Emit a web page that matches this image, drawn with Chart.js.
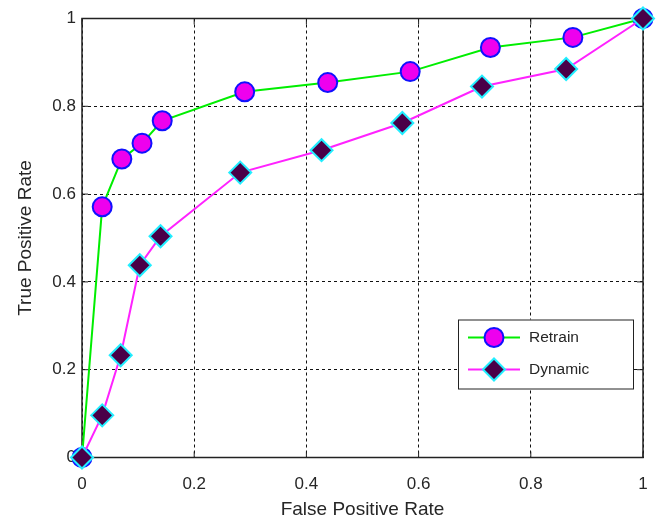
<!DOCTYPE html>
<html>
<head>
<meta charset="utf-8">
<script src="https://cdn.jsdelivr.net/npm/chart.js@4"></script>
<style>
  html, body { margin: 0; padding: 0; background: #fff; }
  #wrap { width: 662px; height: 523px; }
</style>
</head>
<body>
<div id="wrap"><canvas id="roc" width="662" height="523"></canvas></div>
<script>
// values
const retrainFpr = [0, 0.036, 0.071, 0.107, 0.143, 0.29, 0.438, 0.585, 0.728, 0.875, 1];
const retrainTpr = [0, 0.571, 0.68, 0.716, 0.767, 0.833, 0.854, 0.879, 0.934, 0.957, 1];
const dynamicFpr = [0, 0.036, 0.069, 0.103, 0.14, 0.282, 0.427, 0.571, 0.713, 0.863, 1];
const dynamicTpr = [0, 0.096, 0.233, 0.438, 0.504, 0.649, 0.70, 0.762, 0.845, 0.885, 1];
const axisTicks = [0, 0.2, 0.4, 0.6, 0.8, 1];

const toPoints = (xs, ys) => xs.map((x, i) => ({ x, y: ys[i] }));
const textColor = "#262626";
const fontFamily = "'Liberation Sans', Arial, sans-serif";

// axes box + inward ticks, matlab style
const boxPlugin = {
    id: "box",
    beforeDatasetsDraw(chart) {
        const { ctx, chartArea: a, scales } = chart;
        ctx.save();
        ctx.strokeStyle = "#222";
        ctx.lineWidth = 1.5;
        ctx.strokeRect(a.left, a.top, a.right - a.left, a.bottom - a.top);
        ctx.lineWidth = 1;
        ctx.beginPath();
        axisTicks.forEach((v) => {
            const px = scales.x.getPixelForValue(v);
            const py = scales.y.getPixelForValue(v);
            ctx.moveTo(px, a.bottom); ctx.lineTo(px, a.bottom - 6);
            ctx.moveTo(px, a.top); ctx.lineTo(px, a.top + 6);
            ctx.moveTo(a.left, py); ctx.lineTo(a.left + 6, py);
            ctx.moveTo(a.right, py); ctx.lineTo(a.right - 6, py);
        });
        ctx.stroke();
        ctx.restore();
    },
};

// legend with line through marker
const legendPlugin = {
    id: "roclegend",
    afterDraw(chart) {
        const { ctx, chartArea: a } = chart;
        const w = 175, h = 69;
        const x0 = a.right - 10 - w;
        const y0 = a.bottom - 69 - h;
        ctx.save();
        ctx.fillStyle = "#fff";
        ctx.fillRect(x0, y0, w, h);
        ctx.strokeStyle = "#222";
        ctx.lineWidth = 1;
        ctx.strokeRect(x0 + 0.5, y0 + 0.5, w, h);
        chart.data.datasets.forEach((ds, i) => {
            const cy = y0 + 18 + i * 32;
            const lx = x0 + 10, rx = x0 + 62, mx = x0 + 36;
            ctx.strokeStyle = ds.borderColor;
            ctx.lineWidth = 2;
            ctx.beginPath();
            ctx.moveTo(lx, cy); ctx.lineTo(rx, cy);
            ctx.stroke();
            ctx.fillStyle = ds.pointBackgroundColor;
            ctx.strokeStyle = ds.pointBorderColor;
            ctx.lineWidth = ds.pointBorderWidth;
            Chart.helpers.drawPoint(ctx, {
                pointStyle: ds.pointStyle,
                radius: ds.pointRadius,
                borderWidth: ds.pointBorderWidth,
            }, mx, cy);
            ctx.fillStyle = textColor;
            ctx.font = "15.5px " + fontFamily;
            ctx.textBaseline = "middle";
            ctx.fillText(ds.label, x0 + 71, cy);
        });
        ctx.restore();
    },
};

new Chart(document.getElementById("roc").getContext("2d"), {
    type: "line",
    data: {
        datasets: [
            {
                label: "Retrain",
                data: toPoints(retrainFpr, retrainTpr),
                borderColor: "#00ee00",
                borderWidth: 2,
                pointStyle: "circle",
                pointRadius: 9.5,
                pointBackgroundColor: "#ee00ee",
                pointBorderColor: "#1010ff",
                pointBorderWidth: 2,
                order: 2,
                clip: false,
            },
            {
                label: "Dynamic",
                data: toPoints(dynamicFpr, dynamicTpr),
                borderColor: "#ff22ff",
                borderWidth: 2,
                pointStyle: "rectRot",
                pointRadius: 11,
                pointBackgroundColor: "#4a0048",
                pointBorderColor: "#22eeff",
                pointBorderWidth: 2,
                order: 1,
                clip: false,
            },
        ],
    },
    options: {
        responsive: false,
        animation: false,
        layout: {
            autoPadding: false,
            padding: { top: 18.5, right: 19, bottom: 0, left: 0 },
        },
        plugins: {
            legend: { display: false },
            tooltip: { enabled: false },
        },
        scales: {
            x: {
                type: "linear",
                min: 0,
                max: 1,
                afterFit: (scale) => { scale.height = 65.5; },
                afterBuildTicks: (scale) => { scale.ticks = axisTicks.map((v) => ({ value: v })); },
                grid: { color: "#111", lineWidth: 1, drawTicks: true, tickLength: 3, tickColor: "rgba(0,0,0,0)" },
                border: { display: false, dash: [3, 3] },
                ticks: {
                    color: textColor,
                    font: { size: 17, family: fontFamily },
                    padding: 14,
                    maxRotation: 0,
                    callback: (v) => String(v),
                },
                title: {
                    display: true,
                    text: "False Positive Rate",
                    color: textColor,
                    font: { size: 19, family: fontFamily },
                    padding: { top: 0, bottom: 2 },
                },
            },
            y: {
                type: "linear",
                min: 0,
                max: 1,
                afterFit: (scale) => { scale.width = 82; },
                afterBuildTicks: (scale) => { scale.ticks = axisTicks.map((v) => ({ value: v })); },
                grid: { color: "#111", lineWidth: 1, drawTicks: false },
                border: { display: false, dash: [3, 3] },
                ticks: {
                    color: textColor,
                    font: { size: 17, family: fontFamily },
                    padding: 6,
                    callback: (v) => String(v),
                },
                title: {
                    display: true,
                    text: "True Positive Rate",
                    color: textColor,
                    font: { size: 19, family: fontFamily },
                    padding: { top: 14, bottom: 0 },
                },
            },
        },
    },
    plugins: [boxPlugin, legendPlugin],
});
</script>
</body>
</html>
